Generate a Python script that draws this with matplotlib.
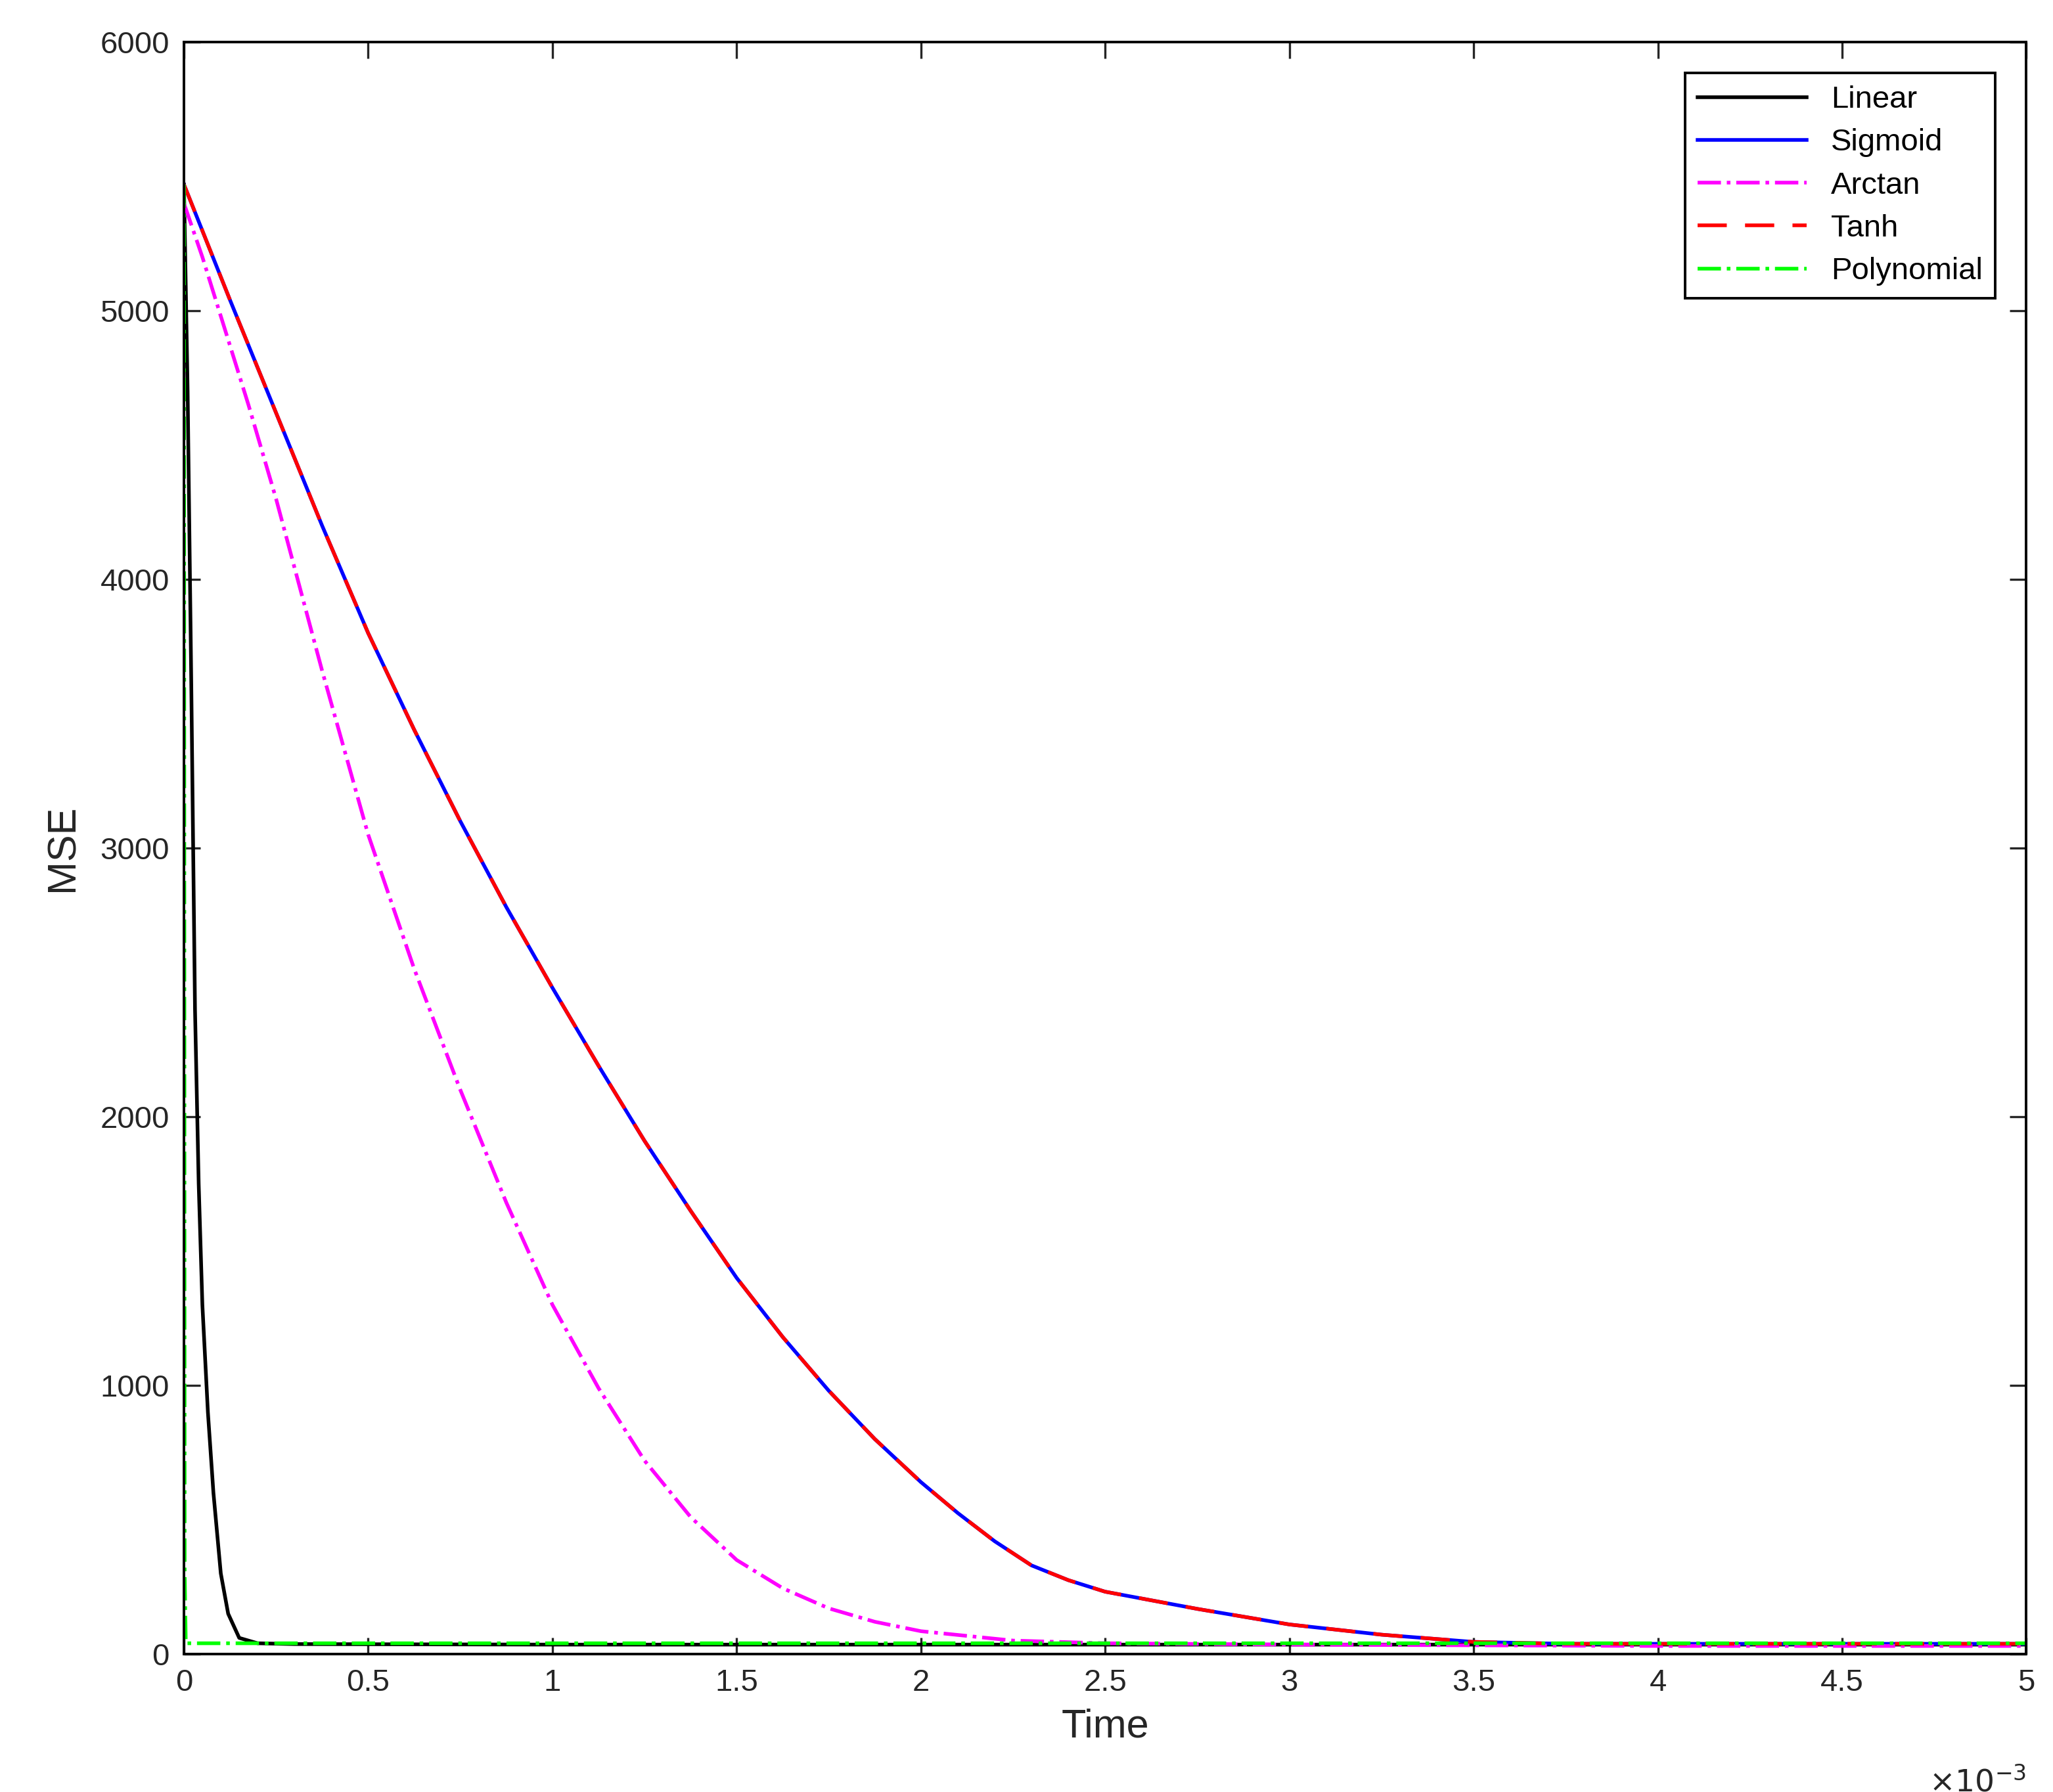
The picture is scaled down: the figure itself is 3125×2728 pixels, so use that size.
import matplotlib
matplotlib.use("Agg")
import matplotlib.pyplot as plt
import numpy as np

plt.rcParams['font.family'] = ['Liberation Sans', 'DejaVu Sans']

# time in units of 1e-3 s
t_sig = [0, 0.125, 0.25, 0.375, 0.5, 0.625, 0.75, 0.875, 1.0, 1.125, 1.25, 1.375, 1.5, 1.625,
         1.75, 1.875, 2.0, 2.1, 2.2, 2.3, 2.4, 2.5, 2.75, 3.0, 3.25, 3.5, 3.75, 4.0, 5.0]
mse_sig = [5470, 5040, 4620, 4200, 3800, 3440, 3100, 2780, 2480, 2190, 1910, 1650, 1400, 1180,
           980, 800, 640, 525, 420, 330, 275, 232, 168, 110, 72, 45, 38, 38, 38]
t_arc = [0, 0.05, 0.1, 0.175, 0.25, 0.375, 0.5, 0.625, 0.75, 0.875, 1.0, 1.125, 1.25, 1.375,
         1.5, 1.625, 1.75, 1.875, 2.0, 2.25, 2.5, 3.0, 4.0, 5.0]
mse_arc = [5400, 5200, 4980, 4650, 4300, 3660, 3050, 2550, 2100, 1680, 1300, 990, 720, 510,
           350, 245, 170, 120, 85, 50, 40, 35, 30, 30]
t_lin = [0, 0.01, 0.02, 0.03, 0.04, 0.05, 0.065, 0.08, 0.1, 0.12, 0.15, 0.2, 0.3, 1.0, 5.0]
mse_lin = [5470, 4700, 3600, 2400, 1750, 1300, 900, 600, 300, 150, 60, 40, 37, 35, 35]
t_poly = [0, 0.001, 0.002, 0.005, 5.0]
mse_poly = [5470, 3000, 300, 40, 40]

fig = plt.figure(figsize=(15.625, 13.64), dpi=200)
ax = fig.add_axes([0.0896, 0.077, 0.8974, 0.8995])
lw = 2.0
ax.plot(np.array(t_lin) * 1e-3, mse_lin, color='black', lw=lw, label='Linear')
ax.plot(np.array(t_sig) * 1e-3, mse_sig, color='blue', lw=lw, label='Sigmoid')
ax.plot(np.array(t_arc) * 1e-3, mse_arc, color='magenta', lw=lw, ls='-.', label='Arctan')
ax.plot(np.array(t_sig) * 1e-3, mse_sig, color='red', lw=lw, ls=(0, (8, 5)), label='Tanh')
ax.plot(np.array(t_poly) * 1e-3, mse_poly, color='#00ff00', lw=lw, ls='-.', label='Polynomial')

ax.set_xlim(0, 5e-3)
ax.set_ylim(0, 6000)
ax.set_xticks(np.arange(0, 5.01, 0.5) * 1e-3)
ax.set_xticklabels(['0', '0.5', '1', '1.5', '2', '2.5', '3', '3.5', '4', '4.5', '5'])
ax.set_yticks(range(0, 6001, 1000))
ax.tick_params(direction='in', top=True, right=True, labelsize=17, length=9, width=1.2,
               colors='#262626', pad=8)
ax.set_xlabel('Time', fontsize=22, color='#262626', labelpad=6)
ax.set_ylabel('MSE', fontsize=22, color='#262626', labelpad=10)
ax.text(1.0, -0.07, r'$\times10^{-3}$', transform=ax.transAxes, ha='right', va='top',
        fontsize=17, color='#262626')
for s in ax.spines.values():
    s.set_linewidth(1.4)
leg = ax.legend(loc='upper right', fontsize=17, fancybox=False, edgecolor='black',
                framealpha=1, handlelength=3.5, borderaxespad=1.0, labelspacing=0.45)
leg.get_frame().set_linewidth(1.4)
fig.savefig('out.png', dpi=200)
